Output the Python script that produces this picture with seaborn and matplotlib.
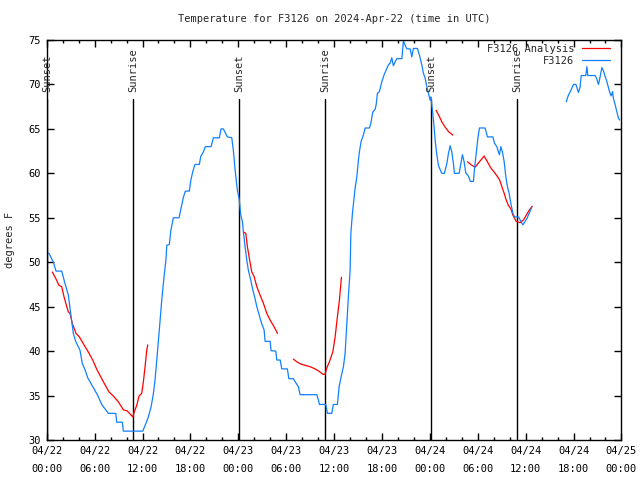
import pandas as pd
import seaborn as sns
import matplotlib.pyplot as plt
import matplotlib.dates as mdates
import matplotlib.transforms as mtransforms

# Times are hours after 2024-04-22 00:00 UTC, temps in degrees F
# Observed F3126 (two pieces, gap in the data on 04/24)
obs1_h = [0.0, 0.29, 0.83, 1.17, 1.88, 2.29, 2.71, 2.92, 3.33, 3.63, 4.17, 4.46, 4.80, 5.14, 5.71,
          6.34, 6.89, 7.72, 8.65, 8.77, 9.47, 9.60, 12.03, 12.44, 12.73, 13.07, 13.36, 13.57, 13.86,
          14.07, 14.41, 14.70, 14.95, 15.04, 15.36, 15.54, 15.86, 16.58, 16.79, 17.12, 17.37, 17.87,
          18.05, 18.30, 18.58, 19.12, 19.30, 19.62, 19.87, 20.59, 20.88, 21.63, 21.84, 22.13, 22.63,
          23.18, 23.38, 23.60, 23.88, 24.10, 24.31, 24.51, 24.64, 24.85, 25.06, 25.26, 25.56, 25.76,
          26.10, 26.32, 26.60, 26.94, 27.23, 27.36, 27.98, 28.11, 28.70, 28.82, 29.24, 29.45, 30.15,
          30.33, 30.90, 31.12, 31.53, 31.74, 33.83, 34.04, 34.16, 34.96, 35.09, 35.16, 35.71, 35.91,
          36.42, 36.63, 36.88, 37.17, 37.38, 37.59, 37.79, 38.01, 38.10, 38.30, 38.63, 38.85, 39.05,
          39.17, 39.39, 39.67, 39.89, 40.43, 40.60, 40.85, 41.14, 41.27, 41.43, 41.68, 41.98, 42.27,
          42.61, 42.81, 43.02, 43.23, 43.43, 43.65, 43.86, 44.49, 44.69, 44.90, 45.11, 45.53, 45.74,
          45.94, 46.44, 46.69, 46.99, 47.19, 47.41, 47.62, 47.82, 48.03, 48.12, 48.32, 48.53, 48.66,
          48.87, 49.07, 49.29, 49.50, 49.82, 50.13, 50.33, 50.54, 50.75, 50.95, 51.08, 51.67, 51.88,
          52.08, 52.29, 52.51, 52.76, 52.96, 53.05, 53.46, 53.58, 53.80, 54.01, 54.21, 54.92, 55.21,
          55.89, 56.09, 56.39, 56.59, 56.72, 56.89, 57.09, 57.31, 57.52, 57.72, 57.93, 58.15, 58.40,
          58.60, 59.10, 59.40, 59.65, 60.15, 60.44, 60.78]
obs1_t = [51.0, 51.0, 50.0, 49.0, 49.0, 47.6, 46.3, 44.8, 42.0, 41.1, 40.1, 38.6, 37.9, 37.0, 36.1,
          35.1, 34.0, 33.0, 33.0, 32.0, 32.0, 31.0, 31.0, 31.9, 32.6, 33.7, 35.2, 36.75, 39.75,
          42.0, 45.75, 48.4, 50.4, 51.9, 52.0, 53.5, 55.0, 55.0, 55.9, 57.3, 58.0, 58.0,
          59.2, 60.2, 61.0, 61.0, 61.9, 62.4, 63.0, 63.0, 64.0, 64.0, 65.0, 65.0, 64.1,
          64.0, 62.6, 60.4, 58.1, 57.2, 55.3, 54.6, 53.4, 51.75, 50.25, 49.1, 48.0, 47.1,
          45.9, 45.0, 44.1, 43.05, 42.4, 41.1, 41.1, 40.05, 40.0, 39.0, 39.0, 38.0, 38.0,
          36.9, 36.9, 36.55, 36.0, 35.1, 35.1, 34.5, 34.0, 34.0, 33.4, 33.0, 33.0, 34.0,
          34.0, 36.0, 37.1, 38.25, 39.75, 43.1, 46.1, 49.1, 53.25, 55.5, 58.3, 59.6, 61.5,
          62.4, 63.6, 64.3, 65.1, 65.1, 65.6, 66.9, 67.2, 67.7, 69.0, 69.2, 70.3, 71.1,
          71.8, 72.2, 72.4, 73.0, 72.1, 72.55, 72.9, 72.9, 74.9, 74.4, 74.0, 74.0, 73.1,
          74.05, 74.05, 73.3, 72.2, 71.25, 70.7, 69.75, 69.0, 68.25, 68.6, 67.1, 65.25, 63.75,
          62.1, 60.9, 60.4, 60.0, 60.0, 61.1, 62.25, 63.1, 62.4, 61.1, 60.0, 60.0, 61.1,
          62.1, 61.3, 60.0, 59.8, 59.4, 59.1, 59.1, 60.4, 62.25, 63.9, 65.1, 65.1, 64.1,
          64.1, 63.4, 63.0, 62.4, 62.1, 63.0, 62.4, 61.3, 59.6, 58.5, 57.75, 56.6, 55.5,
          55.1, 55.1, 54.6, 54.2, 54.9, 55.5, 56.2]
obs2_h = [65.08, 65.36, 65.70, 65.99, 66.29, 66.62, 66.83, 66.96, 67.54, 67.67, 67.79, 68.71, 68.92,
          69.12, 69.34, 69.55, 69.75, 69.96, 70.18, 70.50, 70.71, 70.88, 71.00, 71.22, 71.43, 71.63, 71.78]
obs2_t = [68.05, 68.8, 69.4, 70.0, 70.0, 69.1, 69.75, 71.0, 71.0, 72.0, 71.0, 71.0, 70.6,
          70.0, 70.9, 71.9, 71.5, 70.9, 70.3, 69.2, 68.7, 69.2, 68.4, 67.7, 66.9, 66.2, 66.0]

# F3126 Analysis (five pieces)
ana1_h = [0.70, 1.17, 1.54, 1.88, 2.17, 2.51, 2.71, 2.92, 3.21, 3.67, 4.09, 4.51, 4.80, 5.21, 5.76,
          6.27, 6.89, 7.31, 7.81, 8.35, 8.97, 9.60, 10.10, 10.78, 10.98, 11.28, 11.57, 11.90, 12.11,
          12.32, 12.53, 12.66]
ana1_t = [48.9, 48.1, 47.4, 47.25, 46.1, 45.0, 44.4, 44.25, 43.1, 42.0, 41.6, 40.95, 40.5, 39.9, 39.0,
          37.95, 36.9, 36.2, 35.4, 34.95, 34.3, 33.4, 33.26, 32.6, 33.2, 33.9, 34.95, 35.25, 36.55,
          38.25, 40.1, 40.7]
ana2_h = [24.64, 24.94, 25.14, 25.39, 25.69, 25.98, 26.32, 26.73, 27.14, 27.57, 27.98, 28.48, 28.90]
ana2_t = [53.4, 53.25, 51.75, 50.4, 48.9, 48.4, 47.25, 46.3, 45.4, 44.25, 43.5, 42.75, 42.0]
ana3_h = [30.90, 31.33, 31.83, 32.37, 32.99, 33.62, 34.16, 34.59, 34.87, 35.09, 35.41, 35.84, 36.13,
          36.42, 36.67, 36.92]
ana3_t = [39.1, 38.8, 38.55, 38.4, 38.25, 38.0, 37.7, 37.4, 37.4, 38.1, 38.8, 39.9, 41.6,
          43.9, 45.75, 48.3]
ana4_h = [48.78, 49.07, 49.50, 49.91, 50.33, 50.88]
ana4_t = [67.1, 66.6, 65.8, 65.2, 64.7, 64.3]
ana5_h = [52.71, 53.26, 53.67, 54.21, 54.80, 55.21, 55.64, 56.18, 56.72, 57.02, 57.31, 57.56, 57.84,
          58.15, 58.40, 58.81, 59.31, 59.72, 60.15, 60.48, 60.81]
ana5_t = [61.3, 60.9, 60.7, 61.3, 61.95, 61.3, 60.6, 60.0, 59.3, 58.5, 57.75, 57.0, 56.4,
          56.0, 55.3, 54.6, 54.45, 54.75, 55.4, 55.9, 56.3]

# Sun events
sun_h = [0.05, 10.85, 24.1, 34.9, 48.2, 58.9]
sun_lab = ['Sunset', 'Sunrise', 'Sunset', 'Sunrise', 'Sunset', 'Sunrise']

start = pd.Timestamp('2024-04-22 00:00')
pieces = [('F3126 Analysis', ana1_h, ana1_t), ('F3126 Analysis', ana2_h, ana2_t),
          ('F3126 Analysis', ana3_h, ana3_t), ('F3126 Analysis', ana4_h, ana4_t),
          ('F3126 Analysis', ana5_h, ana5_t), ('F3126', obs1_h, obs1_t), ('F3126', obs2_h, obs2_t)]
frames = []
for i, (name, hh, tt) in enumerate(pieces):
    frames.append(pd.DataFrame({'time': start + pd.to_timedelta(hh, unit='h'), 'temp': tt,
                                'series': name, 'seg': i}))
df = pd.concat(frames, ignore_index=True)

# Style (gnuplot-ish)
sns.set_style('ticks')
plt.rcParams['font.family'] = ['DejaVu Sans Mono']
plt.rcParams['font.size'] = 7.5
plt.rcParams['axes.linewidth'] = 1.0

fig = plt.figure(figsize=(6.4, 4.8), dpi=100)
ax = fig.add_axes([0.073, 0.0833, 0.898, 0.8334])

sns.lineplot(data=df, x='time', y='temp', hue='series', units='seg', estimator=None,
             hue_order=['F3126 Analysis', 'F3126'],
             palette={'F3126 Analysis': '#ff0000', 'F3126': '#1080ff'}, lw=0.9, ax=ax)

trans = mtransforms.blended_transform_factory(ax.transData, ax.transAxes)
for h, lab in zip(sun_h, sun_lab):
    t = start + pd.Timedelta(hours=h)
    ax.axvline(t, ymin=0, ymax=0.8525, color='black', lw=1.0, zorder=1)
    ax.text(t, 0.87, lab, rotation=90, transform=trans, ha='center', va='bottom')

ax.set_xlim(start, start + pd.Timedelta(hours=72))
ax.set_ylim(30, 75)
ax.set_yticks(range(30, 80, 5))
ax.xaxis.set_major_locator(mdates.HourLocator(byhour=[0, 6, 12, 18]))
ax.xaxis.set_minor_locator(mdates.HourLocator(interval=2))
ax.xaxis.set_major_formatter(mdates.DateFormatter('%m/%d\n%H:%M'))
ax.tick_params(which='both', direction='in', top=True, right=True, colors='black')
ax.tick_params(which='major', length=5, width=1, pad=4)
ax.tick_params(which='minor', length=2.5, width=1)
ax.set_xlabel('')
ax.set_ylabel('')
for tk in ax.xaxis.get_major_ticks():
    tk.label1.set_linespacing(2.0)
for sp in ax.spines.values():
    sp.set_color('black')

sns.move_legend(ax, 'upper right', bbox_to_anchor=(610 / 640, 1 - 44 / 480),
                bbox_transform=fig.transFigure, frameon=False, markerfirst=False, title=None,
                borderpad=0, borderaxespad=0, handlelength=2.7, handletextpad=0.7, labelspacing=0.2,
                fontsize=7.5)

fig.text(334 / 640, 1 - 19 / 480, 'Temperature for F3126 on 2024-Apr-22 (time in UTC)',
         ha='center', va='center')
fig.text(10 / 640, 0.5, 'degrees F', rotation=90, ha='center', va='center')

fig.savefig('out.png', dpi=100)
